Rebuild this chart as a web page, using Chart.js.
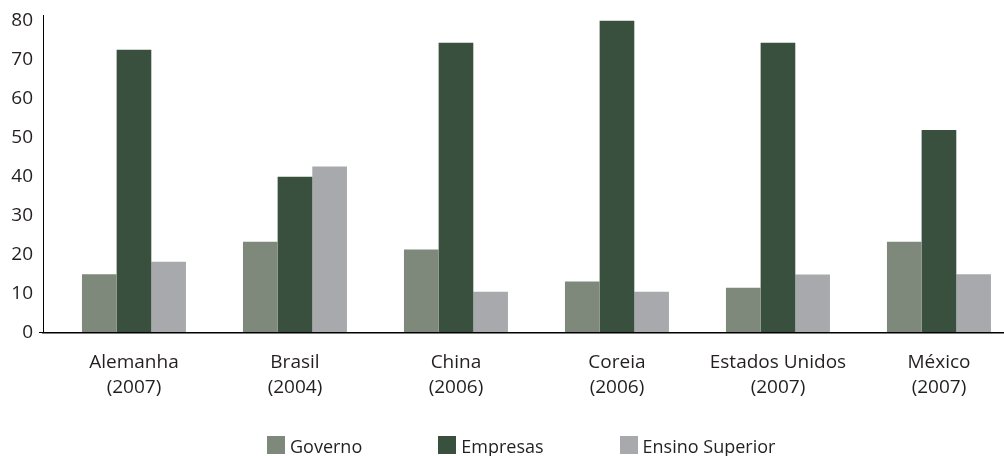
<!DOCTYPE html>
<html>
<head>
<meta charset="utf-8">
<script src="https://cdn.jsdelivr.net/npm/chart.js@4.4.1/dist/chart.umd.min.js"></script>
<style>
  body { margin: 0; background: #fff; }
  #wrap { position: relative; width: 1004px; height: 456px; overflow: hidden; }
  #legenda { position: absolute; left: 267px; top: 436px; display: flex;
    font-family: "Open Sans", sans-serif; font-size: 18px; line-height: 20px; color: #231f20; }
  .item { display: flex; align-items: flex-start; margin-right: 76px; white-space: nowrap; }
  .caixa { width: 18px; height: 18px; margin-right: 5px; }
</style>
</head>
<body>
<div id="wrap">
  <canvas id="myChart"></canvas>
  <div id="legenda"></div>
</div>
<script>
//  Dados
var paises = ["Alemanha", "Brasil", "China", "Coreia", "Estados Unidos", "México"];
var anos = ["(2007)", "(2004)", "(2006)", "(2006)", "(2007)", "(2007)"];

var governo = [15, 23.3, 21.3, 13.1, 11.5, 23.3];
var empresas = [72.6, 40, 74.4, 80, 74.4, 52];
var ensino = [18.2, 42.6, 10.5, 10.5, 14.9, 15];

var nomes = ["Governo", "Empresas", "Ensino Superior"];
var cores = ["#7e887b", "#39503f", "#a8a9ac"];

var yTicks = [0, 10, 20, 30, 40, 50, 60, 70, 80];


function pontos(valores) {
  return valores.map(function(v, i) { return { x: i, y: v }; });
}


function createBarChart() {
  var series = [governo, empresas, ensino];
  var datasets = series.map(function(s, i) {
    return {
      label: nomes[i],
      data: pontos(s),
      backgroundColor: cores[i],
      categoryPercentage: 0.646,
      barPercentage: 1.0
    };
  });

  new Chart("myChart", {
    type: "bar",
    data: { datasets: datasets },
    options: {
      responsive: true,
      maintainAspectRatio: false,
      animation: false,
      layout: { padding: { top: 15, bottom: 38, left: 0, right: 0 } },
      plugins: {
        legend: { display: false },
        tooltip: { enabled: false }
      },
      scales: {
        x: {
          type: "linear",
          offset: false,
          min: -0.565,
          max: 5.404,
          grid: { display: false, drawTicks: false },
          border: { color: "#000", width: 1.5 },
          afterBuildTicks: function(scale) {
            scale.ticks = paises.map(function(p, i) { return { value: i }; });
          },
          ticks: {
            autoSkip: false,
            maxRotation: 0,
            padding: 18,
            color: "#231f20",
            font: { family: "Open Sans", size: 19, lineHeight: 1.3 },
            callback: function(v) {
              var i = Math.round(v);
              return [paises[i], anos[i]];
            }
          }
        },
        y: {
          min: 0,
          max: 81.5,
          grid: {
            drawOnChartArea: false,
            drawTicks: true,
            tickLength: 4,
            color: function(ctx) { return ctx.tick && ctx.tick.value === 0 ? "#000" : "rgba(0,0,0,0)"; }
          },
          border: { color: "#000", width: 1 },
          afterBuildTicks: function(scale) {
            scale.ticks = yTicks.map(function(v) { return { value: v }; });
          },
          afterFit: function(scale) {
            scale.width = 43;
            scale.paddingTop = 0;
            scale.paddingBottom = 0;
          },
          ticks: {
            padding: 6,
            color: "#231f20",
            font: { family: "Open Sans", size: 19 }
          }
        }
      }
    }
  });

  // legenda
  var leg = document.getElementById("legenda");
  nomes.forEach(function(n, i) {
    var item = document.createElement("div");
    item.className = "item";
    var caixa = document.createElement("div");
    caixa.className = "caixa";
    caixa.style.background = cores[i];
    var txt = document.createElement("span");
    txt.textContent = n;
    item.appendChild(caixa);
    item.appendChild(txt);
    leg.appendChild(item);
  });
}

createBarChart();
</script>
</body>
</html>
